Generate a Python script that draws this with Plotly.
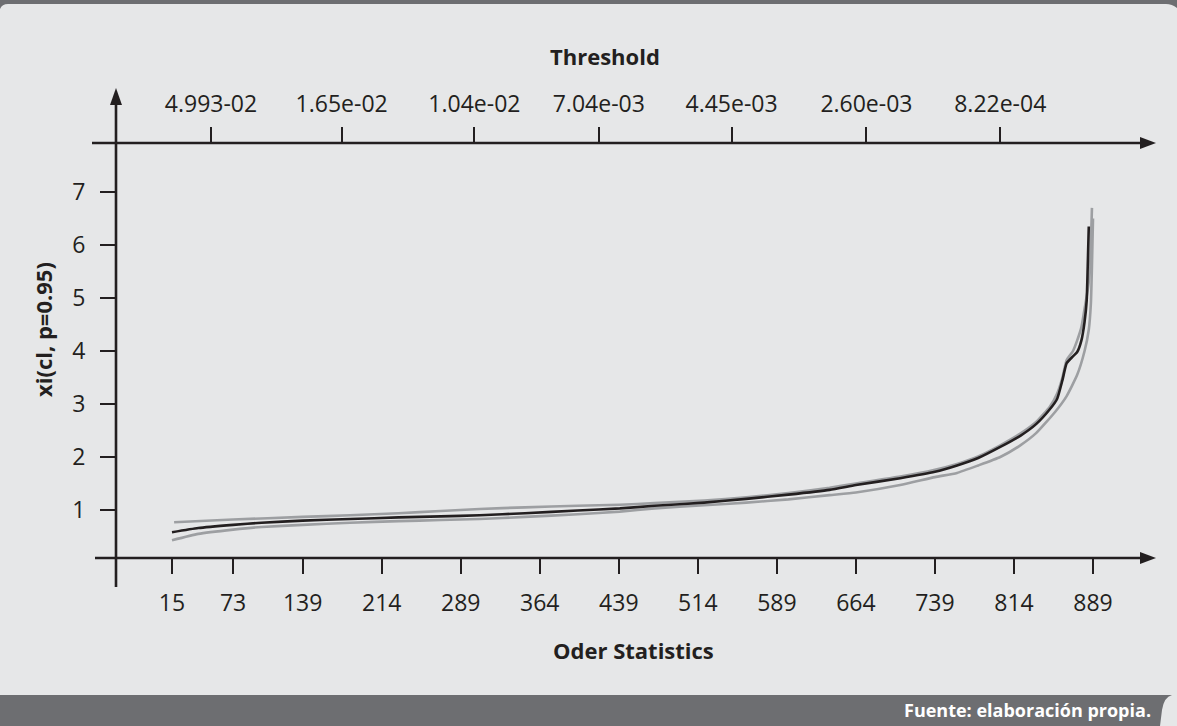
import plotly.graph_objects as go

# ---------------- data ----------------
mid_x = [15, 40, 73, 100, 139, 184, 230, 270, 307, 350, 400, 440, 473, 520, 560, 600, 639, 664,
         706, 739, 760, 780, 801, 820, 835, 848, 855, 860, 864, 870, 874, 878, 881, 883, 884, 885]
mid_y = [0.58, 0.66, 0.72, 0.76, 0.80, 0.83, 0.86, 0.88, 0.90, 0.94, 0.99, 1.03, 1.08, 1.14, 1.21,
         1.29, 1.38, 1.47, 1.60, 1.72, 1.84, 1.98, 2.19, 2.40, 2.62, 2.90, 3.10, 3.45, 3.77, 3.90,
         3.98, 4.20, 4.55, 4.95, 5.60, 6.35]

up_x = [17, 73, 139, 184, 230, 270, 307, 350, 400, 440, 473, 520, 560, 600, 639, 664, 706, 739,
        760, 780, 801, 820, 835, 848, 855, 860, 864, 870, 874, 878, 881, 884, 886, 887, 888]
up_y = [0.77, 0.82, 0.87, 0.90, 0.94, 0.98, 1.02, 1.05, 1.08, 1.10, 1.13, 1.18, 1.24, 1.32, 1.42,
        1.50, 1.63, 1.76, 1.87, 2.01, 2.22, 2.44, 2.66, 2.95, 3.20, 3.50, 3.83, 4.00, 4.20, 4.45,
        4.80, 5.15, 5.50, 6.00, 6.70]

lo_x = [15, 40, 73, 100, 139, 184, 230, 270, 307, 350, 400, 440, 473, 520, 560, 600, 639, 664,
        706, 739, 760, 780, 801, 820, 835, 853, 864, 874, 881, 885, 887, 888, 889]
lo_y = [0.43, 0.55, 0.63, 0.68, 0.72, 0.76, 0.79, 0.81, 0.83, 0.87, 0.92, 0.97, 1.03, 1.09, 1.14,
        1.20, 1.28, 1.33, 1.47, 1.62, 1.70, 1.84, 2.00, 2.22, 2.45, 2.85, 3.15, 3.55, 4.00, 4.40,
        4.90, 5.60, 6.50]

order_ticks = [15, 73, 139, 214, 289, 364, 439, 514, 589, 664, 739, 814, 889]
y_ticks = [1, 2, 3, 4, 5, 6, 7]
threshold_pos = [52, 176, 302, 420, 546, 674, 801]
threshold_labels = ["4.993-02", "1.65e-02", "1.04e-02", "7.04e-03", "4.45e-03", "2.60e-03", "8.22e-04"]

# ---------------- geometry ----------------
W, H = 1177, 726
ML, MR, MT, MB = 116, 22, 143, 168
PW, PH = W - ML - MR, H - MT - MB

def px(x):
    return (x - ML) / PW

def py(y):
    return (H - MB - y) / PH

# data scales (pixel anchors)
sx = (1093 - 172) / (889 - 15)
x_range = [15 + (ML - 172) / sx, 15 + (W - MR - 172) / sx]
sy = (510 - 192) / 6.0
y_range = [1 + (510 - (H - MB)) / sy, 1 + (510 - MT) / sy]

INK = "#231f20"
GRAY = "#9d9fa2"
BG = "#e6e7e8"
BAR = "#6d6e71"
FONT = "Open Sans"

fig = go.Figure()
for xs, ys, col in [(up_x, up_y, GRAY), (lo_x, lo_y, GRAY), (mid_x, mid_y, INK)]:
    fig.add_trace(go.Scatter(x=xs, y=ys, mode="lines",
                             line=dict(color=col, width=2.6, shape="spline", smoothing=0.5),
                             hoverinfo="skip"))
fig.add_trace(go.Scatter(x=threshold_pos, y=[None] * len(threshold_pos), xaxis="x2", mode="lines",
                         hoverinfo="skip", showlegend=False))

tickfont = dict(family=FONT, size=23, color=INK)
axis_common = dict(ticks="outside", ticklen=15, tickwidth=2.2, tickcolor=INK, showgrid=False,
                   zeroline=False, showline=False, tickfont=tickfont)

fig.update_layout(
    width=W, height=H,
    margin=dict(l=ML, r=MR, t=MT, b=MB, pad=0),
    paper_bgcolor=BG, plot_bgcolor=BG,
    showlegend=False,
    xaxis=dict(range=x_range, tickvals=order_ticks, ticklabelstandoff=9, **axis_common),
    xaxis2=dict(range=x_range, tickvals=threshold_pos, ticktext=threshold_labels, overlaying="x",
                side="top", anchor="y", ticklabelstandoff=6, **axis_common),
    yaxis=dict(range=y_range, tickvals=y_ticks, ticklabelstandoff=10, **axis_common),
)

shapes = []
line = dict(color=INK, width=2.6)
shapes.append(dict(type="line", xref="paper", yref="paper", x0=px(116), x1=px(116), y0=py(100), y1=py(587), line=line))
shapes.append(dict(type="line", xref="paper", yref="paper", x0=px(92), x1=px(1145), y0=py(143), y1=py(143), line=line))
shapes.append(dict(type="line", xref="paper", yref="paper", x0=px(95), x1=px(1145), y0=py(558), y1=py(558), line=line))

def tri(points):
    d = "M " + " L ".join(f"{px(a):.5f},{py(b):.5f}" for a, b in points) + " Z"
    return dict(type="path", xref="paper", yref="paper", path=d, fillcolor=INK, line=dict(width=0))

shapes.append(tri([(116, 88), (110, 105), (122, 105)]))
shapes.append(tri([(1156, 143), (1140, 137), (1140, 149)]))
shapes.append(tri([(1156, 558), (1140, 552), (1140, 564)]))

# top bar
shapes.append(dict(type="path", xref="paper", yref="paper", layer="below",
                   path=f"M {px(0)},{py(0)} L {px(1177)},{py(0)} L {px(1177)},{py(8)} "
                        f"Q {px(1172)},{py(4)} {px(1166)},{py(4)} L {px(8)},{py(4)} "
                        f"Q {px(2)},{py(4)} {px(0)},{py(9)} Z",
                   fillcolor=BAR, line=dict(width=0)))
# bottom bar
shapes.append(dict(type="path", xref="paper", yref="paper", layer="below",
                   path=f"M {px(0)},{py(695)} L {px(1172)},{py(695)} "
                        f"Q {px(1164)},{py(697)} {px(1162)},{py(710)} L {px(1160)},{py(726)} "
                        f"L {px(0)},{py(726)} Z",
                   fillcolor=BAR, line=dict(width=0)))
fig.update_layout(shapes=shapes)

ann = []
ann.append(dict(text="<b>Threshold</b>", x=px(605), y=py(56), xref="paper", yref="paper",
                showarrow=False, xanchor="center", yanchor="middle",
                font=dict(family=FONT, size=22, color=INK)))
ann.append(dict(text="<b>Oder Statistics</b>", x=px(633), y=py(650), xref="paper", yref="paper",
                showarrow=False, xanchor="center", yanchor="middle",
                font=dict(family=FONT, size=22, color=INK)))
ann.append(dict(text="<b>xi(cl, p=0.95)</b>", x=px(43), y=py(330), xref="paper", yref="paper",
                showarrow=False, xanchor="center", yanchor="middle", textangle=-90,
                font=dict(family=FONT, size=22, color=INK)))
ann.append(dict(text="<b>Fuente: elaboración propia.</b>", x=px(1153), y=py(710), xref="paper", yref="paper",
                showarrow=False, xanchor="right", yanchor="middle",
                font=dict(family=FONT, size=18, color="white")))
fig.update_layout(annotations=ann)

fig.write_html("out.html", config={"displayModeBar": False},
               post_script="document.body.style.margin='0';document.body.style.overflow='hidden';")
